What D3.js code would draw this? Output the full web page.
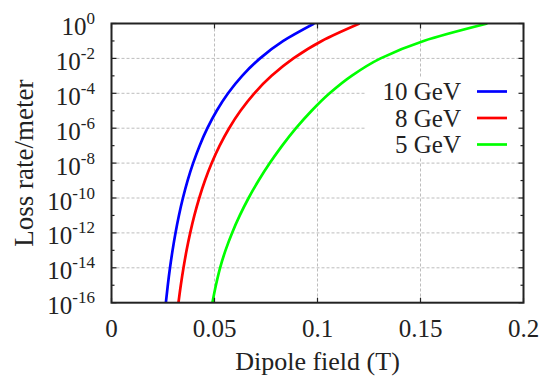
<!DOCTYPE html>
<html>
<head>
<meta charset="utf-8">
<script src="https://cdn.jsdelivr.net/npm/d3@7"></script>
<style>
  html, body { margin: 0; padding: 0; background: #fff; }
  svg { display: block; }
  text { font-family: "Liberation Serif", "Times New Roman", serif; fill: #222; }
</style>
</head>
<body>
<svg id="chart" width="544" height="376"></svg>
<script>
// Loss rate per meter (log scale), one entry per decade, and the dipole field giving it
const lossRate = [1e-16, 1e-15, 1e-14, 1e-13, 1e-12, 1e-11, 1e-10, 1e-9, 1e-8,
                  1e-7, 1e-6, 1e-5, 1e-4, 1e-3, 1e-2, 1e-1, 1e0];
const field10GeV = [0.02640, 0.02733, 0.02840, 0.02964, 0.03107, 0.03273, 0.03467, 0.03694, 0.03963,
                    0.04279, 0.04655, 0.05107, 0.05658, 0.06342, 0.07210, 0.08339, 0.09840];
const field8GeV  = [0.03250, 0.03364, 0.03495, 0.03645, 0.03820, 0.04023, 0.04260, 0.04537, 0.04865,
                    0.05250, 0.05710, 0.06262, 0.06934, 0.07769, 0.08829, 0.10206, 0.12039];
const field5GeV  = [0.04898, 0.05068, 0.05272, 0.05534, 0.05854, 0.06228, 0.06655, 0.07141, 0.07684,
                    0.08286, 0.08956, 0.09714, 0.10587, 0.11655, 0.13063, 0.15150, 0.18243];

const seriesNames = ["10 GeV", "8 GeV", "5 GeV"];
const seriesColors = ["#0000ff", "#ff0000", "#00ff00"];
const seriesFields = [field10GeV, field8GeV, field5GeV];

const xTicks = [0, 0.05, 0.1, 0.15, 0.2];
const xTickLabels = ["0", "0.05", "0.1", "0.15", "0.2"];
const yMajorExp = [0, -2, -4, -6, -8, -10, -12, -14, -16];
const yMinorExp = [-1, -3, -5, -7, -9, -11, -13, -15];

const L = 111.5, R = 523.5, T = 23.5, B = 302.7;

const svg = d3.select("#chart");
const x = d3.scaleLinear().domain([0, 0.2]).range([L, R]);
const y = d3.scaleLog().domain([1e-16, 1]).range([B, T]);

// grid
const grid = svg.append("g").attr("stroke", "#bdbdbd").attr("stroke-width", 1)
  .attr("stroke-dasharray", "3,2").attr("fill", "none");
xTicks.slice(1, -1).forEach(v => {
  grid.append("line").attr("x1", x(v)).attr("x2", x(v)).attr("y1", T).attr("y2", B);
});
yMajorExp.slice(1, -1).forEach(e => {
  grid.append("line").attr("x1", L).attr("x2", R).attr("y1", y(Math.pow(10, e))).attr("y2", y(Math.pow(10, e)));
});

// curves
svg.append("defs").append("clipPath").attr("id", "plotClip")
  .append("rect").attr("x", L).attr("y", T).attr("width", R - L).attr("height", B - T);

const line = d3.line().curve(d3.curveMonotoneY);
const curves = svg.append("g").attr("clip-path", "url(#plotClip)");
seriesFields.forEach((f, i) => {
  const pts = f.map((b, k) => [x(b), y(lossRate[k])]);
  curves.append("path").attr("d", line(pts)).attr("fill", "none")
    .attr("stroke", seriesColors[i]).attr("stroke-width", 2.7);
});

// legend box (opaque)
svg.append("rect").attr("x", 365).attr("y", 78).attr("width", R - 1 - 365).attr("height", 80)
  .attr("fill", "#fff");
seriesNames.forEach((name, i) => {
  const ly = 91.5 + i * 26.5;
  svg.append("text").attr("x", 461).attr("y", ly + 8.5).attr("text-anchor", "end")
    .attr("font-size", 25).text(name);
  svg.append("line").attr("x1", 477).attr("x2", 507).attr("y1", ly).attr("y2", ly)
    .attr("stroke", seriesColors[i]).attr("stroke-width", 2.7);
});

// ticks
const ticks = svg.append("g").attr("stroke", "#222").attr("stroke-width", 1.2);
xTicks.forEach(v => {
  ticks.append("line").attr("x1", x(v)).attr("x2", x(v)).attr("y1", B).attr("y2", B - 5);
  ticks.append("line").attr("x1", x(v)).attr("x2", x(v)).attr("y1", T).attr("y2", T + 5);
});
yMajorExp.forEach(e => {
  const yy = y(Math.pow(10, e));
  ticks.append("line").attr("x1", L).attr("x2", L + 5).attr("y1", yy).attr("y2", yy);
  ticks.append("line").attr("x1", R).attr("x2", R - 5).attr("y1", yy).attr("y2", yy);
});
yMinorExp.forEach(e => {
  const yy = y(Math.pow(10, e));
  ticks.append("line").attr("x1", L).attr("x2", L + 3).attr("y1", yy).attr("y2", yy);
  ticks.append("line").attr("x1", R).attr("x2", R - 3).attr("y1", yy).attr("y2", yy);
});

// border
svg.append("rect").attr("x", L).attr("y", T).attr("width", R - L).attr("height", B - T)
  .attr("fill", "none").attr("stroke", "#222").attr("stroke-width", 2);

// x tick labels
xTicks.forEach((v, i) => {
  svg.append("text").attr("x", x(v)).attr("y", 337).attr("text-anchor", "middle")
    .attr("font-size", 25).text(xTickLabels[i]);
});

// y tick labels: 10^e
yMajorExp.forEach(e => {
  const yy = y(Math.pow(10, e));
  const t = svg.append("text").attr("x", 95).attr("y", yy + 11.5).attr("text-anchor", "end")
    .attr("font-size", 25);
  t.append("tspan").text("10");
  t.append("tspan").attr("dy", -11).attr("font-size", 17).text(String(e));
});

// axis titles
svg.append("text").attr("x", (L + R) / 2).attr("y", 369.5).attr("text-anchor", "middle")
  .attr("font-size", 26).text("Dipole field (T)");
svg.append("text").attr("transform", `translate(33,${(T + B) / 2}) rotate(-90)`)
  .attr("text-anchor", "middle").attr("font-size", 27).text("Loss rate/meter");
</script>
</body>
</html>
